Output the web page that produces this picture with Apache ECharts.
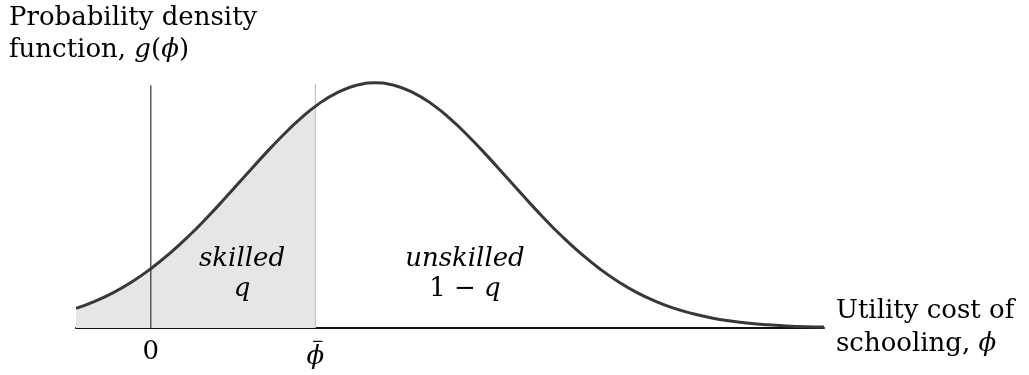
<!DOCTYPE html>
<html>
<head>
<meta charset="utf-8">
<script src="https://cdn.jsdelivr.net/npm/echarts@6/dist/echarts.min.js"></script>
<style>
html,body{margin:0;padding:0;background:#fff;}
#chart{width:1029px;height:375px;}
</style>
</head>
<body>
<div id="chart"></div>
<script>
// Utility cost of schooling (phi) and its density g(phi)
const phi = [-1,-0.75,-0.5,-0.25,0,0.25,0.5,0.75,1,1.25,1.5,1.75,2,2.25,2.5,2.75,3,3.25,3.5,3.75,4,4.25,4.5,4.75,5,5.25,5.5,5.75,6,6.25,6.5,6.75,7,7.25,7.5,7.75,8,8.25,8.5,8.75,9];
const density = [0.0179,0.0244,0.0324,0.0423,0.0542,0.0680,0.0836,0.1008,0.1192,0.1382,0.1571,0.1751,0.1914,0.2051,0.2154,0.2219,0.2241,0.2219,0.2154,0.2051,0.1914,0.1751,0.1571,0.1382,0.1192,0.1008,0.0836,0.0680,0.0542,0.0423,0.0324,0.0244,0.0179,0.0130,0.0092,0.0064,0.0043,0.0029,0.0019,0.0012,0.0008];
// threshold phi-bar and the density there
const phiBar = 2.2;
const phiBarDensity = 0.2026;
// heights of the two vertical guide lines
const zeroLineTop = 0.222;
const phiBarLineTop = 0.223;
// tick labels
const tickValues = [0, phiBar];
const tickLabels = ['{up|0}', '{bar|−}\n{it|ϕ}'];
// region annotations
const regionNames = ['skilled', 'unskilled'];
const regionShares = ['{it|q}', '{up|1 − }{it|q}'];
const regionX = [1.22, 4.2];
const regionY = [0.0494, 0.0494];

const curve = phi.map((x, i) => [x, density[i]]);
const shaded = curve.filter(p => p[0] <= phiBar).concat([[phiBar, phiBarDensity]]);
const annotations = regionNames.map((n, i) => ({value: [regionX[i], regionY[i]], name: n, share: regionShares[i]}));

const serif = 'DejaVu Serif';
const ink = '#000';
const fs = 26;
const chart = echarts.init(document.getElementById('chart'));
chart.setOption({
  animation: false,
  backgroundColor: '#fff',
  title: {
    left: 4, top: -3,
    text: '{up|Probability density}\n{up|function, }{it|g}{up|(}{it|ϕ}{up|)}',
    textStyle: {
      fontFamily: serif, fontSize: fs, fontWeight: 'normal', color: ink, lineHeight: 32,
      rich: {
        up: {fontFamily: serif, fontSize: fs, color: ink, lineHeight: 32},
        it: {fontFamily: serif, fontSize: fs, fontStyle: 'italic', color: ink, lineHeight: 32}
      }
    }
  },
  grid: {left: 76, right: 205, top: 54.5, bottom: 47},
  xAxis: {
    type: 'value', min: -1, max: 9,
    name: '{up|Utility cost of}\n{up|schooling, }{it|ϕ}',
    nameLocation: 'end', nameGap: 12,
    nameTextStyle: {
      fontFamily: serif, fontSize: fs, color: ink, lineHeight: 33, align: 'left', verticalAlign: 'middle',
      rich: {
        up: {fontFamily: serif, fontSize: fs, color: ink, lineHeight: 33},
        it: {fontFamily: serif, fontSize: fs, fontStyle: 'italic', color: ink, lineHeight: 33}
      }
    },
    axisLine: {show: true, onZero: false, lineStyle: {color: '#111', width: 2}},
    axisTick: {show: false},
    splitLine: {show: false},
    axisLabel: {
      show: true, customValues: tickValues, margin: 9,
      fontFamily: serif, fontSize: fs, color: ink, verticalAlign: 'top',
      formatter: v => tickLabels[tickValues.indexOf(v)] || '',
      rich: {
        up: {fontFamily: serif, fontSize: fs, color: ink, lineHeight: 30, align: 'center'},
        bar: {fontFamily: serif, fontSize: 15, color: ink, lineHeight: 10, align: 'center', padding: [0, 0, 0, 5]},
        it: {fontFamily: serif, fontSize: fs, fontStyle: 'italic', color: ink, lineHeight: 20, align: 'center'}
      }
    }
  },
  yAxis: {type: 'value', min: 0, max: 0.25, show: false},
  series: [
    {
      type: 'line', data: shaded, smooth: true, symbol: 'none', z: 1,
      lineStyle: {width: 0}, areaStyle: {color: '#e6e6e6', opacity: 1}, silent: true
    },
    {
      type: 'line', data: [[phiBar, 0], [phiBar, phiBarLineTop]], symbol: 'none', z: 2,
      lineStyle: {color: '#c4c4c4', width: 1.2}, silent: true
    },
    {
      type: 'line', data: [[0, 0], [0, zeroLineTop]], symbol: 'none', z: 3,
      lineStyle: {color: '#333', width: 1.2}, silent: true
    },
    {
      type: 'line', data: curve, smooth: true, symbol: 'none', z: 4,
      lineStyle: {color: '#383838', width: 3}, silent: true
    },
    {
      type: 'scatter', data: annotations, symbolSize: 0, z: 5, silent: true,
      itemStyle: {opacity: 1, color: ink},
      label: {
        show: true, position: 'inside', color: ink, opacity: 1,
        formatter: p => '{it|' + p.data.name + '}\n' + p.data.share,
        rich: {
          it: {fontFamily: serif, fontSize: fs, fontStyle: 'italic', color: ink, lineHeight: 30, align: 'center'},
          up: {fontFamily: serif, fontSize: fs, color: ink, lineHeight: 30, align: 'center'}
        }
      }
    }
  ]
});
</script>
</body>
</html>
